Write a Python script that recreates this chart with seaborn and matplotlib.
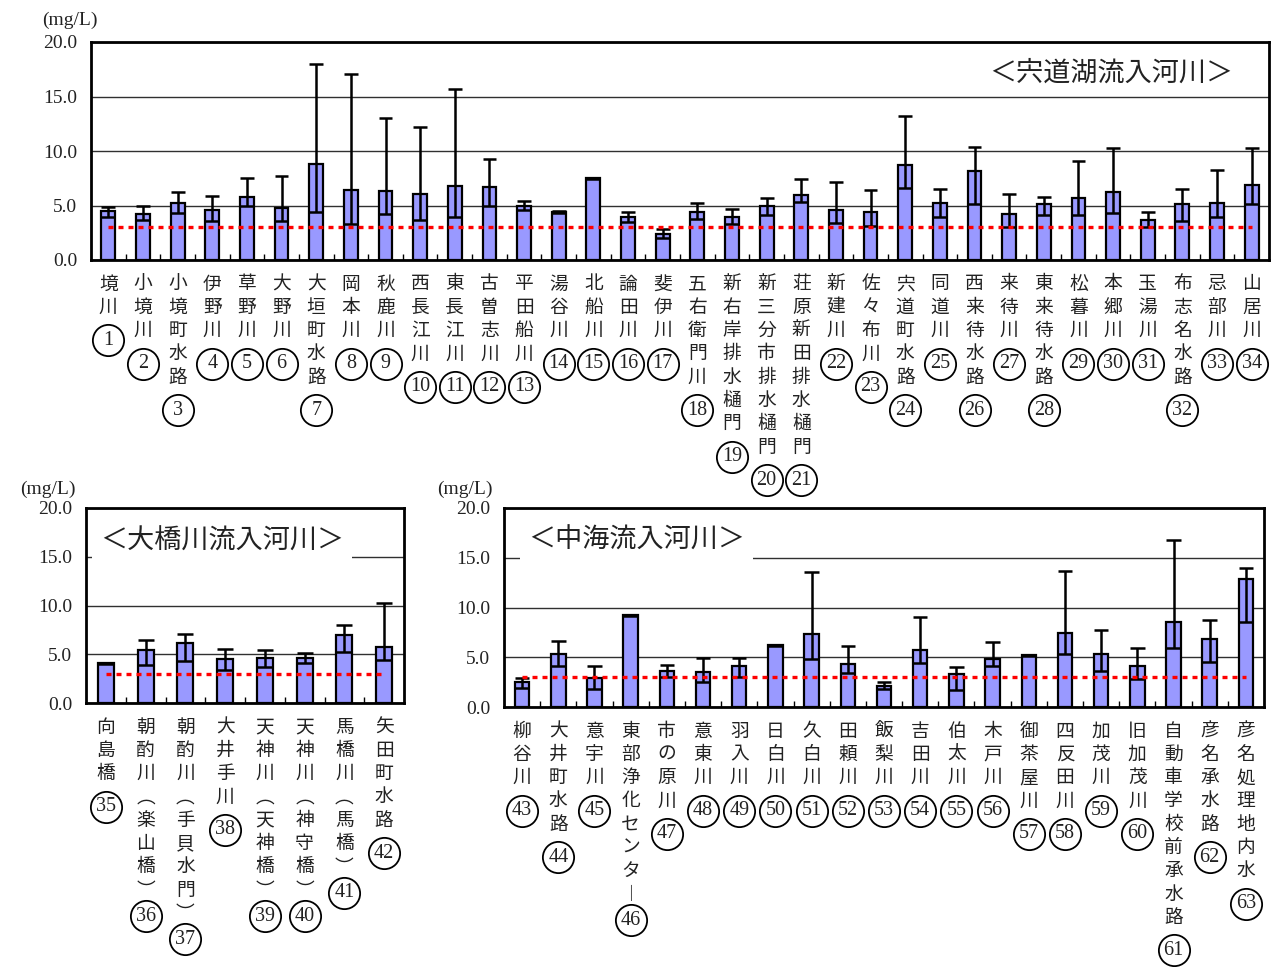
import numpy as np
import pandas as pd
import matplotlib
matplotlib.use("Agg")
import matplotlib.pyplot as plt
import matplotlib.transforms as mtransforms
import seaborn as sns

# ---- 宍道湖流入河川 (1-34) ----
shinji_labels = ["境川", "小境川", "小境町水路", "伊野川", "草野川", "大野川", "大垣町水路",
                 "岡本川", "秋鹿川", "西長江川", "東長江川", "古曽志川", "平田船川", "湯谷川",
                 "北船川", "論田川", "斐伊川", "五右衛門川", "新右岸排水樋門", "新三分市排水樋門",
                 "荘原新田排水樋門", "新建川", "佐々布川", "宍道町水路", "同道川", "西来待水路",
                 "来待川", "東来待水路", "松暮川", "本郷川", "玉湯川", "布志名水路", "忌部川", "山居川"]
shinji_mean = [4.5, 4.2, 5.2, 4.6, 5.8, 4.8, 8.8, 6.4, 6.3, 6.1, 6.8, 6.7, 5.0, 4.4, 7.5, 3.9, 2.4,
               4.4, 3.9, 5.0, 6.0, 4.6, 4.4, 8.7, 5.2, 8.2, 4.2, 5.1, 5.7, 6.2, 3.7, 5.1, 5.2, 6.9]
shinji_min = [3.9, 3.7, 4.3, 3.6, 5.0, 3.6, 4.4, 3.3, 4.2, 3.7, 3.9, 5.0, 4.6, 4.35, 7.4, 3.5, 2.0,
              3.8, 3.3, 4.1, 5.3, 3.4, 3.1, 6.6, 3.9, 5.1, 3.0, 4.1, 4.1, 4.3, 3.0, 3.6, 3.9, 5.1]
shinji_max = [4.9, 5.0, 6.2, 5.9, 7.5, 7.7, 18.0, 17.1, 13.0, 12.2, 15.7, 9.3, 5.4, 4.45, 7.55, 4.4,
              2.8, 5.2, 4.7, 5.7, 7.4, 7.2, 6.4, 13.2, 6.5, 10.4, 6.1, 5.8, 9.1, 10.3, 4.4, 6.5, 8.3, 10.3]

# ---- 大橋川流入河川 (35-42) ----
ohashi_labels = ["向島橋", "朝酌川（楽山橋）", "朝酌川（手貝水門）", "大井手川",
                 "天神川（天神橋）", "天神川（神守橋）", "馬橋川（馬橋）", "矢田町水路"]
ohashi_mean = [4.1, 5.4, 6.2, 4.5, 4.6, 4.6, 7.0, 5.7]
ohashi_min = [4.0, 3.9, 4.3, 3.4, 3.7, 4.1, 5.2, 4.4]
ohashi_max = [4.15, 6.5, 7.1, 5.5, 5.4, 5.1, 8.0, 10.3]

# ---- 中海流入河川 (43-63) ----
nakaumi_labels = ["柳谷川", "大井町水路", "意宇川", "東部浄化センター", "市の原川", "意東川",
                  "羽入川", "日白川", "久白川", "田頼川", "飯梨川", "吉田川", "伯太川", "木戸川",
                  "御茶屋川", "四反田川", "加茂川", "旧加茂川", "自動車学校前承水路",
                  "彦名承水路", "彦名処理地内水"]
nakaumi_mean = [2.5, 5.3, 2.9, 9.2, 3.6, 3.5, 4.1, 6.2, 7.3, 4.3, 2.1, 5.7, 3.3, 4.8, 5.2, 7.4,
                5.3, 4.1, 8.5, 6.8, 12.9]
nakaumi_min = [1.9, 4.1, 1.8, 9.1, 3.0, 2.5, 3.0, 6.1, 4.8, 3.4, 1.8, 4.4, 1.7, 4.1, 5.1, 5.3,
               3.6, 2.8, 5.9, 4.5, 8.5]
nakaumi_max = [2.9, 6.6, 4.1, 9.25, 4.2, 4.9, 4.9, 6.25, 13.6, 6.1, 2.5, 9.0, 4.0, 6.5, 5.25, 13.7,
               7.7, 5.9, 16.8, 8.7, 14.0]

standard_value = 3.0
y_ticks = [0, 5, 10, 15, 20]
unit_label = "(mg/L)"

FIG_W, FIG_H = 1287, 967
fig = plt.figure(figsize=(FIG_W / 100, FIG_H / 100), dpi=100)
plt.rcParams['font.family'] = ['Noto Sans CJK JP', 'DejaVu Sans']

BAR_COLOR = '#9999FF'
NUM_FONT = 'Liberation Serif'
TEXT_COLOR = '#222222'
VERTICAL_FORMS = {'（': '︵', '）': '︶', 'ー': '︱'}


def px_axes(left, top, right, bottom):
    return fig.add_axes([left / FIG_W, 1 - bottom / FIG_H,
                         (right - left) / FIG_W, (bottom - top) / FIG_H])


def draw_panel(ax, labels, means, mins, maxs, first_no, title, title_pos):
    n = len(labels)
    df = pd.DataFrame({'site': labels, 'mean': means})
    sns.barplot(data=df, x='site', y='mean', order=labels, color=BAR_COLOR, saturation=1,
                width=0.4, edgecolor='black', linewidth=1.6, errorbar=None, ax=ax, zorder=2)
    x = np.arange(n)
    # min-max range: whisker with cap at the max and a bar-wide line at the min
    ax.vlines(x, mins, maxs, color='black', lw=1.8, zorder=3)
    ax.hlines(maxs, x - 0.2, x + 0.2, color='black', lw=1.8, zorder=3)
    ax.hlines(mins, x - 0.2, x + 0.2, color='black', lw=1.8, zorder=3)
    # environmental standard
    ax.plot(x, [standard_value] * n, color='red', lw=2.4, dashes=(1.5, 1.5), zorder=4)

    ax.set_xlim(-0.5, n - 0.5)
    ax.set_ylim(0, 20)
    ax.set_yticks(y_ticks)
    ax.set_yticklabels([f"{v:.1f}" for v in y_ticks])
    ax.set_xticks(x)
    ax.set_xticklabels([])
    ax.set_xticks(np.arange(0.5, n - 0.5), minor=True)
    ax.tick_params(axis='x', which='major', length=0)
    ax.tick_params(axis='x', which='minor', direction='in', length=4, width=1)
    ax.tick_params(axis='y', length=0, pad=10, labelsize=14, labelfontfamily=NUM_FONT,
                   labelcolor=TEXT_COLOR)
    ax.set_xlabel('')
    ax.set_ylabel('')
    ax.set_axisbelow(True)
    ax.yaxis.grid(True, color='#303030', lw=1.0)
    ax.xaxis.grid(False)
    for sp in ax.spines.values():
        sp.set_visible(True)
        sp.set_linewidth(2.0)
        sp.set_color('black')

    ax.text(title_pos[0], title_pos[1], title, transform=ax.transAxes, ha='center', va='center',
            fontsize=19.5, color=TEXT_COLOR, zorder=6,
            bbox=dict(facecolor='white', edgecolor='none', boxstyle='square,pad=0.3'))

    # vertical category names with circled site numbers
    base = mtransforms.blended_transform_factory(ax.transData, ax.transAxes)
    for i, lab in enumerate(labels):
        chars = [VERTICAL_FORMS.get(c, c) for c in lab]
        for k, ch in enumerate(chars):
            off = 24 + 23.3 * k
            tr = base + mtransforms.ScaledTranslation(0, -off / 100, fig.dpi_scale_trans)
            ax.text(i, 0, ch, transform=tr, ha='center', va='center', fontsize=13.5,
                    color=TEXT_COLOR, clip_on=False)
        last_off = 24 + 23.3 * (len(chars) - 1)
        circ_off = last_off + (26 if lab[-1] in '）ー' else 33)
        tr = base + mtransforms.ScaledTranslation(0, -circ_off / 100, fig.dpi_scale_trans)
        ax.plot([i], [0], marker='o', ms=22.5, mfc='white', mec='black', mew=1.3,
                transform=tr, clip_on=False)
        ax.text(i, 0, str(first_no + i), transform=tr, ha='center', va='center',
                fontfamily=NUM_FONT, fontsize=14.5, color=TEXT_COLOR, clip_on=False)


ax_top = px_axes(91, 42, 1269, 260)
draw_panel(ax_top, shinji_labels, shinji_mean, shinji_min, shinji_max, 1,
           "＜宍道湖流入河川＞", (0.866, 0.858))

ax_bl = px_axes(86, 508, 404, 703)
draw_panel(ax_bl, ohashi_labels, ohashi_mean, ohashi_min, ohashi_max, 35,
           "＜大橋川流入河川＞", (0.428, 0.83))

ax_br = px_axes(504, 508, 1264, 707)
draw_panel(ax_br, nakaumi_labels, nakaumi_mean, nakaumi_min, nakaumi_max, 43,
           "＜中海流入河川＞", (0.174, 0.838))

for (px, py) in [(42, 20), (20, 489), (437, 489)]:
    fig.text(px / FIG_W, 1 - py / FIG_H, unit_label, ha='left', va='center',
             fontfamily=NUM_FONT, fontsize=14, color=TEXT_COLOR)

fig.savefig("out.png", dpi=100, facecolor='white')
